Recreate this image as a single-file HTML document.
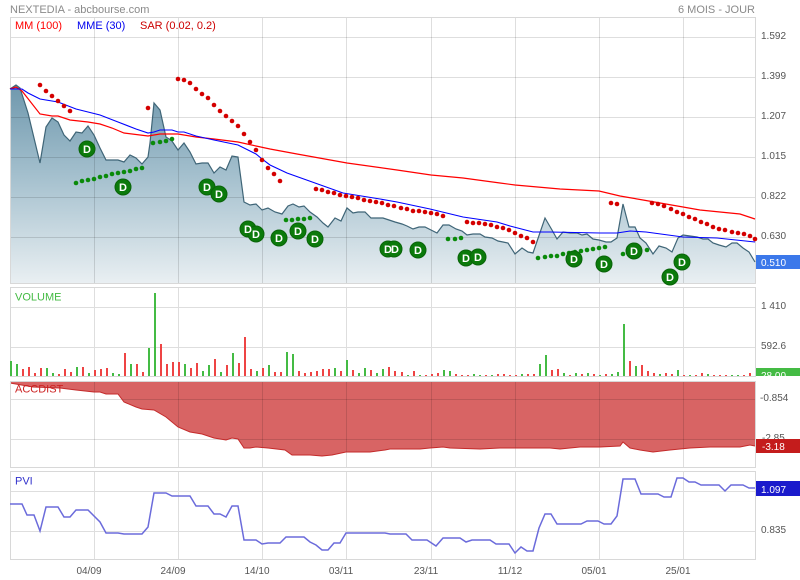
<!DOCTYPE html>
<html><head><meta charset="utf-8"><style>
html,body{margin:0;padding:0;background:#fff;}
svg{display:block;font-family:"Liberation Sans",Arial,sans-serif;}
</style></head><body>
<svg width="800" height="580" viewBox="0 0 800 580" xmlns="http://www.w3.org/2000/svg">
<defs>
<linearGradient id="pg" gradientUnits="userSpaceOnUse" x1="0" y1="85" x2="0" y2="283">
<stop offset="0" stop-color="#6f98ad"/><stop offset="0.45" stop-color="#a3bfcd"/><stop offset="1" stop-color="#e9eff2"/>
</linearGradient>
<clipPath id="vc"><rect x="756" y="287" width="44" height="89"/></clipPath>
</defs>
<rect width="800" height="580" fill="#fff"/>
<text x="10" y="13" font-size="11" fill="#8a8a8a">NEXTEDIA - abcbourse.com</text>
<text x="755" y="13" font-size="11" fill="#8a8a8a" text-anchor="end">6 MOIS - JOUR</text>

<!-- MAIN PANEL -->
<polygon fill="url(#pg)" points="10,89 16,85 20,88 28,113 40,163 46,127 52,118 58,122 64,135 70,141 76,132 82,133 88,126 94,135 100,148 106,160 112,160 118,160 124,162 130,155 136,158 142,164 148,157 150,143 154,103 160,110 166,137 172,141 178,150 184,143 190,152 196,164 202,163 208,163 214,173 220,167 226,170 232,156 238,157 244,202 250,205 256,204 262,210 268,208 275,212 282,214 288,206 293,204 299,207 304,206 310,212 317,217 323,223 328,227 335,218 341,221 347,208 353,213 358,212 365,212 371,218 377,218 383,218 389,220 395,222 402,224 407,226 413,229 419,227 425,227 431,230 437,233 443,225 449,225 456,229 462,231 467,235 473,234 480,234 485,237 492,238 498,241 503,242 508,243 515,254 522,248 528,252 533,253 545,218 552,230 557,239 563,232 570,233 577,233 582,235 587,234 593,239 599,240 606,242 611,242 617,238 623,204 629,227 635,227 640,238 646,243 653,254 659,246 666,248 672,252 678,238 683,235 690,236 697,237 703,239 708,239 713,243 719,245 726,247 732,243 737,243 743,248 749,252 755,262 755,283 10,283"/>
<g stroke="rgba(0,0,0,0.13)" stroke-width="1" fill="none">
<path d="M10 37.5H756M10 77.5H756M10 117.5H756M10 157.5H756M10 197.5H756M10 237.5H756"/>
<path d="M94.5 17V283M178.5 17V283M262.5 17V283M346.5 17V283M431.5 17V283M515.5 17V283M599.5 17V283M683.5 17V283"/>
</g>
<rect x="10.5" y="17.5" width="745" height="266" fill="none" stroke="#d8d8d8"/>
<polyline fill="none" stroke="#3f6577" stroke-width="1.2" points="10,89 16,85 20,88 28,113 40,163 46,127 52,118 58,122 64,135 70,141 76,132 82,133 88,126 94,135 100,148 106,160 112,160 118,160 124,162 130,155 136,158 142,164 148,157 150,143 154,103 160,110 166,137 172,141 178,150 184,143 190,152 196,164 202,163 208,163 214,173 220,167 226,170 232,156 238,157 244,202 250,205 256,204 262,210 268,208 275,212 282,214 288,206 293,204 299,207 304,206 310,212 317,217 323,223 328,227 335,218 341,221 347,208 353,213 358,212 365,212 371,218 377,218 383,218 389,220 395,222 402,224 407,226 413,229 419,227 425,227 431,230 437,233 443,225 449,225 456,229 462,231 467,235 473,234 480,234 485,237 492,238 498,241 503,242 508,243 515,254 522,248 528,252 533,253 545,218 552,230 557,239 563,232 570,233 577,233 582,235 587,234 593,239 599,240 606,242 611,242 617,238 623,204 629,227 635,227 640,238 646,243 653,254 659,246 666,248 672,252 678,238 683,235 690,236 697,237 703,239 708,239 713,243 719,245 726,247 732,243 737,243 743,248 749,252 755,262"/>
<polyline fill="none" stroke="#ff0000" stroke-width="1.2" points="10,89 16,87 22,91 40,114 52,116 58,116 70,120 88,122 100,124 112,128 124,133 148,136 160,134 178,134 196,137 214,139 238,142 256,146 270,149 297,154 347,163 397,170 431,175 463,178 500,183 515,185 560,189 599,191 620,196 643,200 683,207 700,210 740,214 755,219"/>
<polyline fill="none" stroke="#0000ff" stroke-width="1.1" points="10,89 22,89 28,93 40,99 58,102 76,109 88,112 100,115 118,122 136,129 148,133 154,132 160,130 172,130 178,132 184,132 196,136 214,140 238,145 248,150 256,154 262,159 270,165 287,173 315,183 343,193 380,199 397,202 430,209 463,217 497,222 510,226 533,232 550,232 600,233 617,233 630,231 646,232 683,237 717,238 755,242"/>
<g fill="#d40000">
<circle cx="40" cy="85" r="2.3"/><circle cx="46" cy="91" r="2.3"/><circle cx="52" cy="96" r="2.3"/><circle cx="58" cy="101" r="2.3"/><circle cx="64" cy="106" r="2.3"/><circle cx="70" cy="111" r="2.3"/>
<circle cx="148" cy="108" r="2.3"/>
<circle cx="178" cy="79" r="2.3"/><circle cx="184" cy="80" r="2.3"/><circle cx="190" cy="83" r="2.3"/><circle cx="196" cy="89" r="2.3"/><circle cx="202" cy="94" r="2.3"/><circle cx="208" cy="98" r="2.3"/><circle cx="214" cy="105" r="2.3"/><circle cx="220" cy="111" r="2.3"/><circle cx="226" cy="116" r="2.3"/><circle cx="232" cy="121" r="2.3"/><circle cx="238" cy="126" r="2.3"/><circle cx="244" cy="134" r="2.3"/><circle cx="250" cy="142" r="2.3"/><circle cx="256" cy="150" r="2.3"/><circle cx="262" cy="160" r="2.3"/><circle cx="268" cy="168" r="2.3"/><circle cx="274" cy="174" r="2.3"/><circle cx="280" cy="181" r="2.3"/>
<circle cx="316" cy="189" r="2.3"/><circle cx="322" cy="190" r="2.3"/><circle cx="328" cy="192" r="2.3"/><circle cx="334" cy="193" r="2.3"/><circle cx="340" cy="195" r="2.3"/><circle cx="346" cy="196" r="2.3"/><circle cx="352" cy="197" r="2.3"/><circle cx="358" cy="198" r="2.3"/><circle cx="364" cy="200" r="2.3"/><circle cx="370" cy="201" r="2.3"/><circle cx="376" cy="202" r="2.3"/><circle cx="382" cy="203" r="2.3"/><circle cx="388" cy="205" r="2.3"/><circle cx="394" cy="206" r="2.3"/><circle cx="401" cy="208" r="2.3"/><circle cx="407" cy="209" r="2.3"/><circle cx="413" cy="211" r="2.3"/><circle cx="419" cy="211" r="2.3"/><circle cx="425" cy="212" r="2.3"/><circle cx="431" cy="213" r="2.3"/><circle cx="437" cy="214" r="2.3"/><circle cx="443" cy="216" r="2.3"/>
<circle cx="467" cy="222" r="2.3"/><circle cx="473" cy="223" r="2.3"/><circle cx="479" cy="223" r="2.3"/><circle cx="485" cy="224" r="2.3"/><circle cx="491" cy="225" r="2.3"/><circle cx="497" cy="227" r="2.3"/><circle cx="503" cy="228" r="2.3"/><circle cx="509" cy="230" r="2.3"/><circle cx="515" cy="233" r="2.3"/><circle cx="521" cy="236" r="2.3"/><circle cx="527" cy="238" r="2.3"/><circle cx="533" cy="242" r="2.3"/>
<circle cx="611" cy="203" r="2.3"/><circle cx="617" cy="204" r="2.3"/>
<circle cx="652" cy="203" r="2.3"/><circle cx="658" cy="204" r="2.3"/><circle cx="664" cy="206" r="2.3"/><circle cx="671" cy="209" r="2.3"/><circle cx="677" cy="212" r="2.3"/><circle cx="683" cy="214" r="2.3"/><circle cx="689" cy="217" r="2.3"/><circle cx="695" cy="219" r="2.3"/><circle cx="701" cy="222" r="2.3"/><circle cx="707" cy="224" r="2.3"/><circle cx="713" cy="227" r="2.3"/><circle cx="719" cy="229" r="2.3"/><circle cx="725" cy="230" r="2.3"/><circle cx="732" cy="232" r="2.3"/><circle cx="738" cy="233" r="2.3"/><circle cx="744" cy="234" r="2.3"/><circle cx="750" cy="236" r="2.3"/><circle cx="755" cy="239" r="2.3"/>
</g>
<g fill="#0a8a0a">
<circle cx="76" cy="183" r="2.3"/><circle cx="82" cy="181" r="2.3"/><circle cx="88" cy="180" r="2.3"/><circle cx="94" cy="179" r="2.3"/><circle cx="100" cy="177" r="2.3"/><circle cx="106" cy="176" r="2.3"/><circle cx="112" cy="174" r="2.3"/><circle cx="118" cy="173" r="2.3"/><circle cx="124" cy="172" r="2.3"/><circle cx="130" cy="171" r="2.3"/><circle cx="136" cy="169" r="2.3"/><circle cx="142" cy="168" r="2.3"/>
<circle cx="153" cy="143" r="2.3"/><circle cx="160" cy="142" r="2.3"/><circle cx="166" cy="141" r="2.3"/><circle cx="172" cy="139" r="2.3"/>
<circle cx="286" cy="220" r="2.3"/><circle cx="292" cy="220" r="2.3"/><circle cx="298" cy="219" r="2.3"/><circle cx="304" cy="219" r="2.3"/><circle cx="310" cy="218" r="2.3"/>
<circle cx="448" cy="239" r="2.3"/><circle cx="455" cy="239" r="2.3"/><circle cx="461" cy="238" r="2.3"/>
<circle cx="538" cy="258" r="2.3"/><circle cx="545" cy="257" r="2.3"/><circle cx="551" cy="256" r="2.3"/><circle cx="557" cy="256" r="2.3"/><circle cx="563" cy="254" r="2.3"/><circle cx="569" cy="253" r="2.3"/><circle cx="575" cy="252" r="2.3"/><circle cx="581" cy="251" r="2.3"/><circle cx="587" cy="250" r="2.3"/><circle cx="593" cy="249" r="2.3"/><circle cx="599" cy="248" r="2.3"/><circle cx="605" cy="247" r="2.3"/>
<circle cx="623" cy="254" r="2.3"/><circle cx="629" cy="253" r="2.3"/><circle cx="647" cy="250" r="2.3"/>
</g>
<g font-size="11" font-weight="bold" fill="#fff" text-anchor="middle">
<g fill="#0b7a0b" stroke="#096409" stroke-width="1">
<circle cx="87" cy="149" r="8"/><circle cx="123" cy="187" r="8"/><circle cx="207" cy="187" r="8"/><circle cx="219" cy="194" r="8"/>
<circle cx="248" cy="229" r="8"/><circle cx="256" cy="234" r="8"/><circle cx="279" cy="238" r="8"/><circle cx="298" cy="231" r="8"/><circle cx="315" cy="239" r="8"/>
<circle cx="388" cy="249" r="8"/><circle cx="394" cy="249" r="8"/><circle cx="418" cy="250" r="8"/><circle cx="466" cy="258" r="8"/><circle cx="478" cy="257" r="8"/>
<circle cx="574" cy="259" r="8"/><circle cx="604" cy="264" r="8"/><circle cx="634" cy="251" r="8"/><circle cx="670" cy="277" r="8"/><circle cx="682" cy="262" r="8"/>
</g>
<text x="87" y="153">D</text><text x="123" y="191">D</text><text x="207" y="191">D</text><text x="219" y="198">D</text>
<text x="248" y="233">D</text><text x="256" y="238">D</text><text x="279" y="242">D</text><text x="298" y="235">D</text><text x="315" y="243">D</text>
<text x="388" y="253">D</text><text x="395" y="253">D</text><text x="418" y="254">D</text><text x="466" y="262">D</text><text x="478" y="261">D</text>
<text x="574" y="263">D</text><text x="604" y="268">D</text><text x="634" y="255">D</text><text x="670" y="281">D</text><text x="682" y="266">D</text>
</g>
<text x="15" y="29" font-size="11" fill="#ff0000">MM (100)</text>
<text x="77" y="29" font-size="11" fill="#0000ee">MME (30)</text>
<text x="140" y="29" font-size="11" fill="#cc0000">SAR (0.02, 0.2)</text>
<g font-size="10" fill="#555">
<text x="761" y="39">1.592</text><text x="761" y="79">1.399</text><text x="761" y="119">1.207</text><text x="761" y="159">1.015</text><text x="761" y="199">0.822</text><text x="761" y="239">0.630</text>
</g>
<rect x="756" y="255" width="44" height="14" fill="#3b78ea"/>
<text x="761" y="266" font-size="10" fill="#fff">0.510</text>

<!-- VOLUME PANEL -->
<g stroke="#dedede" stroke-width="1" fill="none">
<path d="M10 307.5H756M10 347.5H756"/>
<path d="M94.5 287V376M178.5 287V376M262.5 287V376M346.5 287V376M431.5 287V376M515.5 287V376M599.5 287V376M683.5 287V376"/>
</g>
<rect x="10.5" y="287.5" width="745" height="89" fill="none" stroke="#d8d8d8"/>
<path fill="none" stroke="#44bb44" stroke-width="2" d="M11 376V361M17 376V364M47 376V368M53 376V373M77 376V367M89 376V373M113 376V373M119 376V374M131 376V364M149 376V348M155 376V293M185 376V364M203 376V371M209 376V365M221 376V372M233 376V353M257 376V371M269 376V365M287 376V352M293 376V354M335 376V368M347 376V360M359 376V373M365 376V368M377 376V373M383 376V369M408 376V375M420 376V375M444 376V370M450 376V371M474 376V374M480 376V375M492 376V375M522 376V374M540 376V364M546 376V355M564 376V373M576 376V373M588 376V373M600 376V375M612 376V374M618 376V372M624 376V324M636 376V366M660 376V374M678 376V370M690 376V375M708 376V374M732 376V375M738 376V375"/>
<path fill="none" stroke="#ee4444" stroke-width="2" d="M23 376V369M29 376V367M35 376V373M41 376V368M59 376V374M65 376V369M71 376V372M83 376V367M95 376V370M101 376V369M107 376V368M125 376V353M137 376V364M143 376V372M161 376V344M167 376V364M173 376V362M179 376V362M191 376V368M197 376V363M215 376V359M227 376V365M239 376V363M245 376V337M251 376V369M263 376V368M275 376V372M281 376V372M299 376V371M305 376V373M311 376V372M317 376V371M323 376V369M329 376V369M341 376V371M353 376V370M371 376V370M389 376V367M395 376V371M402 376V372M414 376V371M426 376V375M432 376V374M438 376V373M456 376V374M462 376V375M468 376V375M486 376V375M498 376V374M504 376V374M510 376V375M516 376V375M528 376V374M534 376V374M552 376V370M558 376V369M570 376V375M582 376V374M594 376V374M606 376V374M630 376V361M642 376V365M648 376V371M654 376V373M666 376V373M672 376V374M684 376V375M696 376V375M702 376V373M714 376V375M720 376V375M726 376V375M744 376V375M750 376V373"/>
<text x="15" y="300.5" font-size="11" fill="#44bb44">VOLUME</text>
<g font-size="10" fill="#555"><text x="761" y="309">1 410</text><text x="761" y="349">592.6</text></g>
<g clip-path="url(#vc)"><rect x="756" y="368" width="44" height="14" fill="#44bb44"/><text x="761" y="379" font-size="10" fill="#fff">28.00</text></g>

<!-- ACCDIST PANEL -->
<polygon fill="#d86464" points="10,381 10,383 33,387 60,388 76,390 94,392 100,392 106,394 118,394 124,402 136,407 142,409 154,410 166,417 178,427 190,432 202,434 214,438 226,440 232,438 238,439 244,448 250,448 256,447 268,448 285,450 292,455 310,455 322,456 332,455 346,452 370,452 385,450 390,449 400,449 420,449 430,448 443,447 450,448 480,449 500,448 550,448 560,449 580,447 600,447 620,446 623,442 630,448 640,450 653,452 670,450 690,448 710,447 740,447 750,445 755,446 755,381"/>
<g stroke="rgba(0,0,0,0.13)" stroke-width="1" fill="none">
<path d="M10 399.5H756M10 439.5H756"/>
<path d="M94.5 381V467M178.5 381V467M262.5 381V467M346.5 381V467M431.5 381V467M515.5 381V467M599.5 381V467M683.5 381V467"/>
</g>
<polyline fill="none" stroke="#c42a2a" stroke-width="1" points="10,383 33,387 60,388 76,390 94,392 100,392 106,394 118,394 124,402 136,407 142,409 154,410 166,417 178,427 190,432 202,434 214,438 226,440 232,438 238,439 244,448 250,448 256,447 268,448 285,450 292,455 310,455 322,456 332,455 346,452 370,452 385,450 390,449 400,449 420,449 430,448 443,447 450,448 480,449 500,448 550,448 560,449 580,447 600,447 620,446 623,442 630,448 640,450 653,452 670,450 690,448 710,447 740,447 750,445 755,446"/>
<rect x="10.5" y="381.5" width="745" height="86" fill="none" stroke="#d8d8d8"/>
<text x="15" y="392.5" font-size="11" fill="#cc2222">ACCDIST</text>
<g font-size="10" fill="#555"><text x="760" y="401">-0.854</text><text x="762" y="441">-2.85</text></g>
<rect x="756" y="439" width="44" height="14" fill="#c41c1c"/>
<text x="762" y="450" font-size="10" fill="#fff">-3.18</text>

<!-- PVI PANEL -->
<g stroke="#dedede" stroke-width="1" fill="none">
<path d="M10 491.5H756M10 531.5H756"/>
<path d="M94.5 471V559M178.5 471V559M262.5 471V559M346.5 471V559M431.5 471V559M515.5 471V559M599.5 471V559M683.5 471V559"/>
</g>
<rect x="10.5" y="471.5" width="745" height="88" fill="none" stroke="#d8d8d8"/>
<polyline fill="none" stroke="#6b6bdb" stroke-width="1.5" points="10,504 22,504 27,515 34,515 40,531 46,507 58,507 64,517 70,517 76,510 88,510 100,522 106,533 118,533 124,534 142,534 148,527 154,493 166,493 172,496 190,496 196,506 208,506 214,514 220,514 226,517 232,506 238,506 244,540 256,540 262,544 268,543 280,543 286,537 304,537 310,542 316,545 322,550 328,550 334,543 340,543 346,533 385,533 390,534 406,534 412,540 427,540 436,546 443,538 460,538 466,542 472,540 490,540 496,544 509,544 515,553 521,547 527,551 533,551 539,528 545,514 551,514 557,524 581,524 587,521 598,521 604,524 611,524 617,516 623,479 635,479 641,494 658,494 664,497 671,497 677,478 683,478 689,482 695,482 701,485 719,485 725,491 731,485 743,485 749,488 755,488"/>
<text x="15" y="484.5" font-size="11" fill="#3333cc">PVI</text>
<rect x="756" y="481" width="44" height="15" fill="#1a1acc"/>
<text x="761" y="493" font-size="10" fill="#fff">1.097</text>
<text x="761" y="533" font-size="10" fill="#555">0.835</text>

<!-- X AXIS -->
<g font-size="10" fill="#555" text-anchor="middle">
<text x="89" y="574">04/09</text><text x="173" y="574">24/09</text><text x="257" y="574">14/10</text><text x="341" y="574">03/11</text><text x="426" y="574">23/11</text><text x="510" y="574">11/12</text><text x="594" y="574">05/01</text><text x="678" y="574">25/01</text>
</g>
</svg>
</body></html>
